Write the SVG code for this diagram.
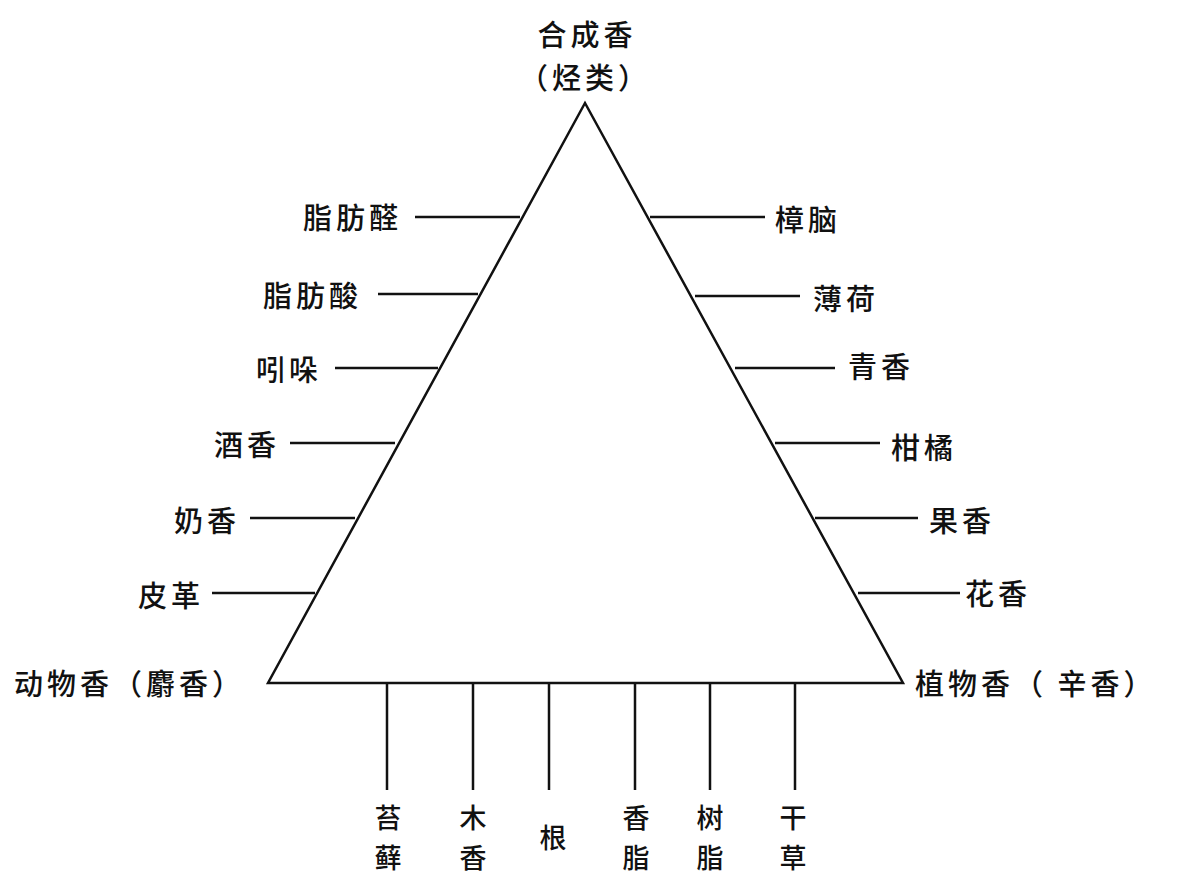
<svg xmlns="http://www.w3.org/2000/svg" width="1190" height="884" viewBox="0 0 1190 884">
<style>
text{font-family:"Noto Sans CJK SC","Noto Sans",sans-serif;font-size:29px;font-weight:500;letter-spacing:4px;fill:#111;dominant-baseline:central}
.l{stroke:#111;stroke-width:2.5;fill:none}
.m{text-anchor:middle}
.e{text-anchor:end}
.b{font-size:27px}
</style>
<rect width="1190" height="884" fill="#fff"/>
<g id="triangle"><polygon class="l" points="585,103 268,683 903,683" stroke-width="4"/></g>
<g id="connectors">
<path class="l" d="M415 217H520M378 294H478M335 368H438M290 443H395M250 518H355M212 593H315"/>
<path class="l" d="M650 217H765M695 296H800M735 368H835M775 443H880M815 518H918M858 593H960"/>
<path class="l" d="M387 683V790M473 683V790M549 683V790M635 683V790M710 683V790M795 683V790"/>
</g>
<g id="top"><text class="m" x="587" y="33">合成香</text><text class="m" x="585" y="76">（烃类）</text></g>
<g id="left-labels">
<text class="e" x="402" y="216">脂肪醛</text>
<text class="e" x="362" y="294">脂肪酸</text>
<text class="e" x="322" y="368">吲哚</text>
<text class="e" x="280" y="443">酒香</text>
<text class="e" x="240" y="519">奶香</text>
<text class="e" x="204" y="594">皮革</text>
<text x="14" y="682" letter-spacing="2">动物香（麝香）</text>
</g>
<g id="right-labels">
<text x="775" y="218">樟脑</text>
<text x="813" y="297">薄荷</text>
<text x="848" y="365">青香</text>
<text x="891" y="446">柑橘</text>
<text x="929" y="519">果香</text>
<text x="965" y="592">花香</text>
<text x="915" y="682" letter-spacing="2">植物香（ 辛香）</text>
</g>
<g id="bottom-labels" letter-spacing="0">
<text class="m b" x="390" y="816">苔</text><text class="m b" x="390" y="856">藓</text>
<text class="m b" x="475" y="816">木</text><text class="m b" x="475" y="856">香</text>
<text class="m b" x="555" y="836">根</text>
<text class="m b" x="638" y="816">香</text><text class="m b" x="638" y="856">脂</text>
<text class="m b" x="712" y="816">树</text><text class="m b" x="712" y="856">脂</text>
<text class="m b" x="795" y="816">干</text><text class="m b" x="795" y="856">草</text>
</g>
</svg>
